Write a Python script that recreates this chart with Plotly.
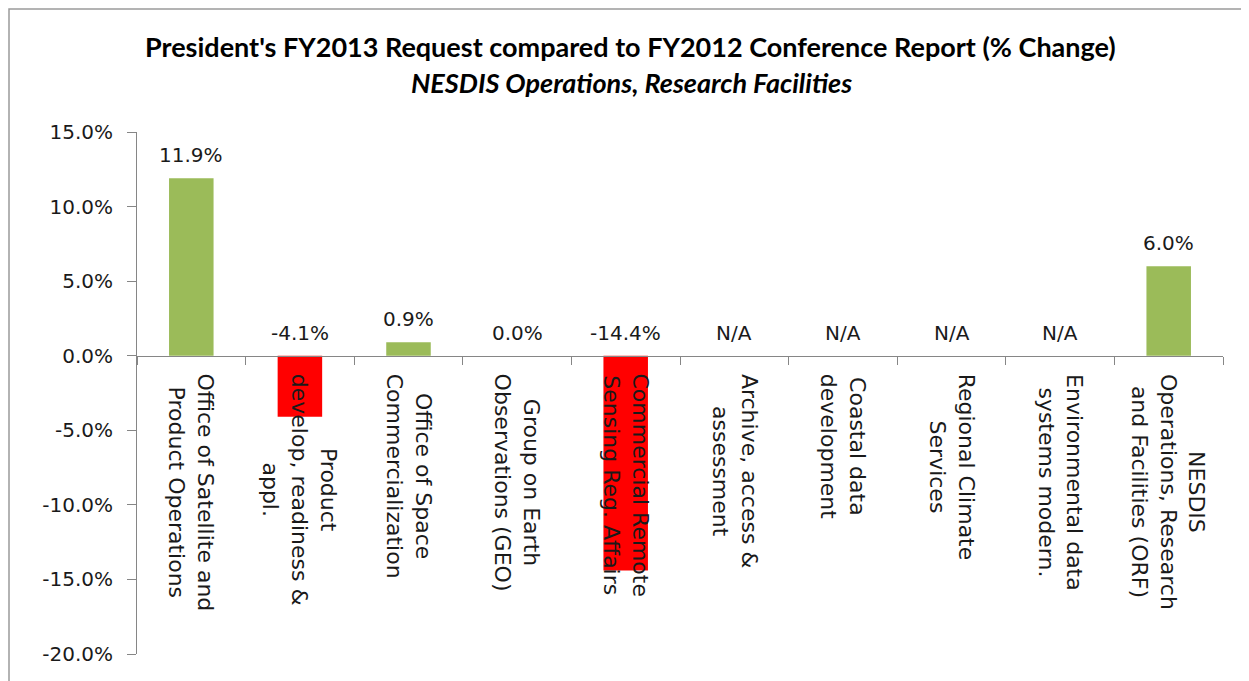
import plotly.graph_objects as go

categories = [
    "Office of Satellite and<br>Product Operations",
    "Product<br>develop, readiness &<br>appl.",
    "Office of Space<br>Commercialization",
    "Group on Earth<br>Observations (GEO)",
    "Commercial Remote<br>Sensing Reg. Affairs",
    "Archive, access &<br>assessment",
    "Coastal data<br>development",
    "Regional Climate<br>Services",
    "Environmental data<br>systems modern.",
    "NESDIS<br>Operations, Research<br>and Facilities (ORF)",
]
values = [11.9, -4.1, 0.9, 0.0, -14.4, None, None, None, None, 6.0]
value_labels = ["11.9%", "-4.1%", "0.9%", "0.0%", "-14.4%", "N/A", "N/A", "N/A", "N/A", "6.0%"]
y_ticks = [15, 10, 5, 0, -5, -10, -15, -20]
y_tick_text = ["15.0%", "10.0%", "5.0%", "0.0%", "-5.0%", "-10.0%", "-15.0%", "-20.0%"]

GREEN = "#9BBB59"
RED = "#FF0000"
AX = "#868686"
TXT = "#1a1a1a"

# page is offset by the 8px body margin
ML, MT, PW, PH = 129, 124, 1086, 522
W, H = 1249, 681

xs = list(range(len(categories)))
colors = [RED if (v is not None and v < 0) else GREEN for v in values]

fig = go.Figure()
fig.add_trace(go.Bar(
    x=xs, y=[v if v is not None else 0 for v in values],
    marker=dict(color=colors, line=dict(width=0)),
    width=0.41, hoverinfo="skip",
))

ymin, ymax = -20, 15
annotations = []
for i, (v, lab) in enumerate(zip(values, value_labels)):
    base = max(v, 0) if v is not None else 0
    annotations.append(dict(
        x=i, y=base, xref="x", yref="y", text=lab, showarrow=False,
        yanchor="bottom", yshift=9,
        font=dict(family="DejaVu Sans", size=20, color=TXT),
    ))
    annotations.append(dict(
        x=i, y=0, xref="x", yref="y", text=categories[i], showarrow=False,
        textangle=90, align="center", yanchor="top", xanchor="center", yshift=-16,
        font=dict(family="DejaVu Sans", size=22, color=TXT),
    ))

annotations.append(dict(
    x=(622 - ML) / PW, y=1.0 + (MT - 39) / PH, xref="paper", yref="paper",
    text="<b>President's FY2013 Request compared to FY2012 Conference Report (% Change)</b>",
    showarrow=False, xanchor="center", yanchor="middle",
    font=dict(family="Lato", size=27, color="#000000"),
))
annotations.append(dict(
    x=(623 - ML) / PW, y=1.0 + (MT - 74) / PH, xref="paper", yref="paper",
    text="<b><i>NESDIS Operations, Research Facilities</i></b>",
    showarrow=False, xanchor="center", yanchor="middle",
    font=dict(family="Lato", size=27, color="#000000"),
))

fig.update_layout(
    width=W, height=H,
    margin=dict(l=ML, r=W - ML - PW, t=MT, b=H - MT - PH),
    paper_bgcolor="white",
    plot_bgcolor="rgba(0,0,0,0)",
    showlegend=False,
    bargap=0.59,
    annotations=annotations,
    shapes=[dict(
        type="rect", xref="paper", yref="paper",
        x0=(1 - ML) / PW, x1=1.2, y0=-0.3, y1=1.0 + (MT - 1) / PH,
        line=dict(color="#9a9a9a", width=1.5), fillcolor="rgba(0,0,0,0)", layer="below",
    )],
    xaxis=dict(
        range=[-0.5, len(categories) - 0.5],
        tickvals=[i - 0.5 for i in range(len(categories) + 1)],
        showticklabels=False,
        ticks="outside", ticklen=8, tickcolor=AX, tickwidth=1,
        showline=True, linecolor=AX, linewidth=1,
        showgrid=False, zeroline=False,
        anchor="free", position=(0 - ymin) / (ymax - ymin),
        fixedrange=True,
    ),
    yaxis=dict(
        range=[ymin, ymax],
        tickvals=y_ticks, ticktext=y_tick_text,
        ticks="outside", ticklen=9, tickcolor=AX,
        showline=True, linecolor=AX, linewidth=1,
        showgrid=False, zeroline=False,
        ticklabelstandoff=10,
        tickfont=dict(family="DejaVu Sans", size=20, color=TXT),
    ),
)

fig.write_html("out.html")
